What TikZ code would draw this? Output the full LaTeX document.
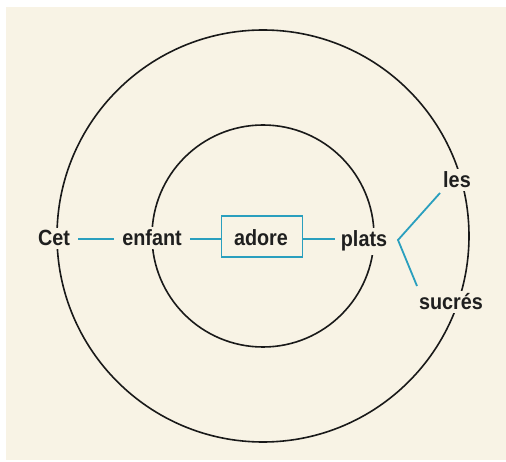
\documentclass[tikz,border=0pt]{standalone}
\usepackage{fontspec}
\setmainfont{Liberation Sans}
\definecolor{paper}{HTML}{F8F3E5}
\definecolor{teal}{HTML}{2A9FBE}
\newcommand{\wtxt}[1]{\scalebox{0.9}[1]{#1}}
\begin{document}
\begin{tikzpicture}[x=1pt,y=-1pt,
  word/.style={fill=paper,inner sep=3pt,anchor=base,font=\fontsize{22}{24}\selectfont\bfseries,text=black!88},
  link/.style={draw=teal,line width=1.8pt},
  ring/.style={draw=black!90,line width=1.6pt}]
\useasboundingbox (0,0) rectangle (506,462);
\fill[white] (0,0) rectangle (506,462);
\fill[paper] (6,7) rectangle (506,460);
\coordinate (c) at (263,236);
\draw[ring] (c) circle[radius=206];
\draw[ring] (c) circle[radius=111];
\node[word] (cet) at (54,246) {\wtxt{Cet}};
\node[word] (enfant) at (152,246) {\wtxt{enfant}};
\node[draw=teal,line width=1.8pt,fill=paper,minimum width=81pt,minimum height=41pt] (box) at (262,236.5) {};
\node[word] (adore) at (261,246) {\wtxt{adore}};
\node[word] (plats) at (364,247) {\wtxt{plats}};
\node[word] (les) at (457,188) {\wtxt{les}};
\node[word] (sucres) at (451,310) {\wtxt{sucrés}};
\coordinate (v) at (398,240);
\coordinate (vu) at (440,193);
\coordinate (vd) at (417,286);
\draw[link] ([xshift=5pt]cet.east |- 0,239) -- ([xshift=-5pt]enfant.west |- 0,239);
\draw[link] ([xshift=5pt]enfant.east |- 0,239) -- (box.west |- 0,239);
\draw[link] (box.east |- 0,239) -- ([xshift=-3pt]plats.west |- 0,239);
\draw[link] (vu) -- (v) -- (vd);
\end{tikzpicture}
\end{document}
